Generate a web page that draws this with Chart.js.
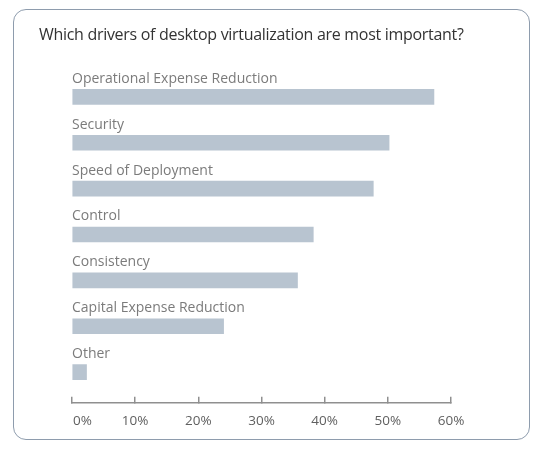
<!DOCTYPE html>
<html lang="en">
<head>
    <meta charset="UTF-8">
    <title>Desktop virtualization drivers</title>
    <script src="https://cdn.jsdelivr.net/npm/chart.js"></script>
    <style>
        body { margin: 0; background: #fff; }
        .caixa {
            position: absolute; left: 13px; top: 9px;
            width: 515px; height: 429px;
            border: 1px solid #8e9cad; border-radius: 13px;
            pointer-events: none;
        }
        .titulo {
            position: absolute; left: 39px; top: 23px;
            font-family: "Open Sans", sans-serif; font-size: 16px;
            letter-spacing: -0.3px;
            color: #333; white-space: nowrap;
        }
        .grafico { position: absolute; left: 0; top: 0; width: 540px; height: 450px; }
    </style>
</head>
<body>
    <div class="grafico"><canvas id="myChart"></canvas></div>
    <div class="titulo">Which drivers of desktop virtualization are most important?</div>
    <div class="caixa"></div>

<script>
  var categorias = ['Operational Expense Reduction', 'Security', 'Speed of Deployment',
                    'Control', 'Consistency', 'Capital Expense Reduction', 'Other'];
  var valores = [57.3, 50.2, 47.7, 38.2, 35.7, 24.0, 2.3];
  var ticksX = [0, 10, 20, 30, 40, 50, 60];

  // bars sit on a linear y scale so the axis line can sit a bit below the last bar
  var pontos = valores.map(function (v, i) { return { x: v, y: i }; });

  var config = {
      type: 'bar',
      data: {
        datasets: [{
          data: pontos,
          backgroundColor: '#b8c4d0',
          borderWidth: 0,
          barThickness: 15
        }]
      },
      options: {
        indexAxis: 'y',
        responsive: true,
        maintainAspectRatio: false,
        animation: false,
        layout: { padding: { left: 72, right: 89, top: 74, bottom: 5 } },
        plugins: { legend: { display: false }, tooltip: { enabled: false } },
        scales: {
          y: {
            type: 'linear',
            reverse: true,
            offset: false,
            min: -0.5,
            max: 6.67,
            grid: { display: false, drawTicks: false },
            border: { display: false },
            ticks: {
              stepSize: 1,
              mirror: true,
              padding: 0,
              labelOffset: -18,
              color: '#7b7b7b',
              font: { family: 'Open Sans', size: 14 },
              callback: function (v) { return Number.isInteger(v) ? categorias[v] : ''; }
            }
          },
          x: {
            type: 'linear',
            min: ticksX[0],
            max: ticksX[ticksX.length - 1],
            grid: { drawOnChartArea: false, tickLength: -6, color: '#8f8f8f', lineWidth: 1.5 },
            border: { color: '#8f8f8f', width: 1.5 },
            afterBuildTicks: function (scale) {
              scale.ticks = ticksX.map(function (t) { return { value: t }; });
            },
            ticks: {
              padding: 16,
              color: '#606060',
              maxRotation: 0,
              autoSkip: false,
              font: { family: 'Open Sans', size: 13.5 },
              // first label starts at its tick instead of centring on it
              callback: function (v) { return v === 0 ? '      0%' : v + '%'; }
            }
          }
        }
      }
  };

  var myChart = new Chart(document.getElementById('myChart'), config);
</script>
</body>
</html>
